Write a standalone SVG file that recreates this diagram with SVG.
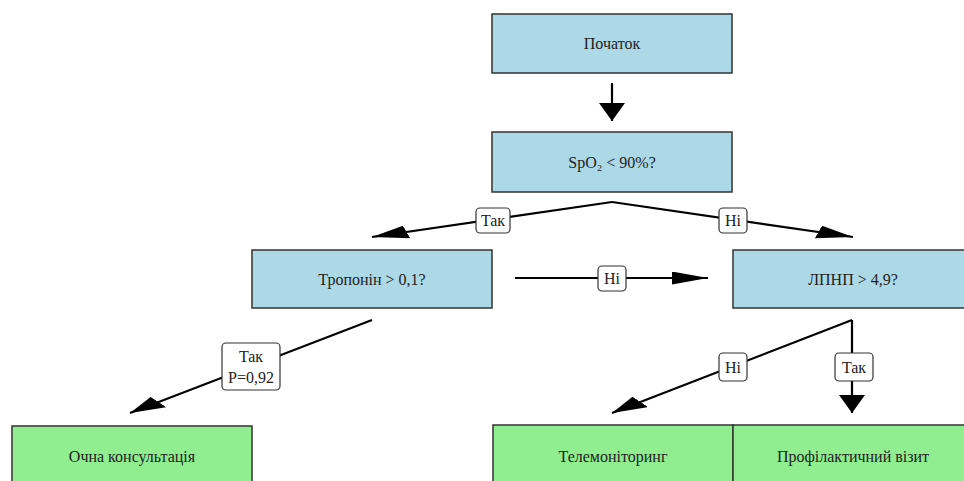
<svg xmlns="http://www.w3.org/2000/svg" width="964" height="481" viewBox="0 0 964 481">
  <style>
    .blue { fill: #add8e6; stroke: #333; stroke-width: 1.5; }
    .green { fill: #90ee90; stroke: #333; stroke-width: 1.5; }
    text { font-family: 'Liberation Serif', 'DejaVu Serif', serif; }
    .nt { font-size: 16px; fill: #222; text-anchor: middle; dominant-baseline: central; }
    .edge { fill: none; stroke: #000; stroke-width: 2.2; }
    .lbl { fill: #fff; stroke: #333; stroke-width: 1.2; }
    .lt { font-size: 16px; fill: #222; text-anchor: middle; dominant-baseline: central; }
  </style>
  <defs>
    <marker id="ah" markerUnits="userSpaceOnUse" markerWidth="20" markerHeight="14" refX="18" refY="6.5" orient="auto">
      <path d="M0,0 L18,6.5 L0,13 z" fill="#000"/>
    </marker>
  </defs>
  <rect width="964" height="481" fill="#fff"/>

  <g id="connectors">
    <g transform="scale(2,1)">
      <line class="edge" vector-effect="non-scaling-stroke" x1="306" y1="83" x2="306" y2="121" marker-end="url(#ah)"/>
      <polyline class="edge" vector-effect="non-scaling-stroke" points="306,202 186,237" marker-end="url(#ah)"/>
      <polyline class="edge" vector-effect="non-scaling-stroke" points="306,202 426.5,237" marker-end="url(#ah)"/>
      <line class="edge" vector-effect="non-scaling-stroke" x1="257.5" y1="278" x2="354" y2="278" marker-end="url(#ah)"/>
      <line class="edge" vector-effect="non-scaling-stroke" x1="186" y1="320" x2="65" y2="413" marker-end="url(#ah)"/>
      <line class="edge" vector-effect="non-scaling-stroke" x1="426" y1="320" x2="306" y2="413" marker-end="url(#ah)"/>
      <line class="edge" vector-effect="non-scaling-stroke" x1="426" y1="320" x2="426" y2="413" marker-end="url(#ah)"/>
    </g>
    <g id="labels">
      <rect class="lbl" x="476" y="208" width="34" height="25" rx="4"/>
      <text class="lt" x="493" y="220.5">Так</text>
      <rect class="lbl" x="719" y="208" width="28" height="25" rx="4"/>
      <text class="lt" x="733" y="220.5">Ні</text>
      <rect class="lbl" x="598" y="266" width="28" height="25" rx="4"/>
      <text class="lt" x="612" y="278.5">Ні</text>
      <rect class="lbl" x="222" y="343" width="58" height="47" rx="4"/>
      <text class="lt" x="251" y="356">Так</text>
      <text class="lt" x="251" y="377">P=0,92</text>
      <rect class="lbl" x="719" y="353" width="28" height="28" rx="4"/>
      <text class="lt" x="733" y="367">Ні</text>
      <rect class="lbl" x="835" y="353" width="38" height="28" rx="4"/>
      <text class="lt" x="854" y="367">Так</text>
    </g>
  </g>

  <g id="start">
    <rect class="blue" x="492" y="14" width="240" height="59"/>
    <text class="nt" x="612" y="43.5">Початок</text>
  </g>
  <g id="spo2">
    <rect class="blue" x="492" y="132" width="240" height="60"/>
    <text class="nt" x="612" y="162">SpO₂ &lt; 90%?</text>
  </g>
  <g id="troponin">
    <rect class="blue" x="252" y="250" width="240" height="58"/>
    <text class="nt" x="372" y="279">Тропонін &gt; 0,1?</text>
  </g>
  <g id="ldl">
    <rect class="blue" x="733" y="250" width="240" height="58"/>
    <text class="nt" x="853" y="279">ЛПНП &gt; 4,9?</text>
  </g>
  <g id="ochna">
    <rect class="green" x="12" y="426" width="240" height="60"/>
    <text class="nt" x="132" y="456">Очна консультація</text>
  </g>
  <g id="tele">
    <rect class="green" x="493" y="425" width="240" height="60"/>
    <text class="nt" x="613" y="456">Телемоніторинг</text>
  </g>
  <g id="prof">
    <rect class="green" x="733" y="425" width="240" height="60"/>
    <text class="nt" x="853" y="456">Профілактичний візит</text>
  </g>
</svg>
